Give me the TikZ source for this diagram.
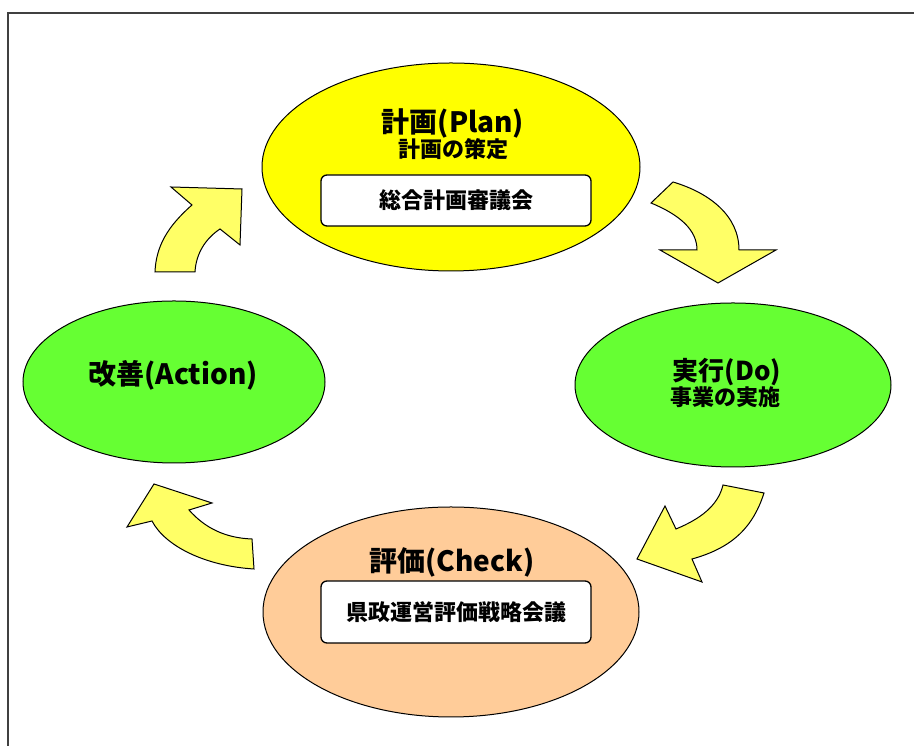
\documentclass[tikz,border=0pt]{standalone}
\usepackage{fontspec}
\setmainfont{Noto Sans CJK JP}
\usepackage{tikz}
\usetikzlibrary{positioning, calc, shapes.geometric}

\definecolor{planyellow}{HTML}{FFFF00}
\definecolor{dogreen}{HTML}{66FF33}
\definecolor{checkpeach}{HTML}{FFCC99}
\definecolor{arrowyellow}{HTML}{FFFF66}
\definecolor{framegray}{HTML}{404040}

\tikzset{
  phase/.style={ellipse, draw=black, line width=1pt, inner sep=0pt},
  meeting/.style={draw=black, fill=white, rounded corners=6pt, line width=1.3pt, inner sep=0pt, minimum width=270pt},
  cyclearrow/.style={fill=arrowyellow, draw=black, line width=1pt, line join=miter},
  headtext/.style={font=\bfseries\fontsize{28}{30}\selectfont, inner sep=0pt},
  subtext/.style={font=\bfseries\fontsize{22}{24}\selectfont, inner sep=0pt}
}

\begin{document}
\begin{tikzpicture}[x=1pt, y=1pt]
        \useasboundingbox (0,0) rectangle (914,746);
        \draw[framegray, line width=1.6pt] (8,-5) -- (8,733) -- (920,733);   %frame

        % the four phases
        \node[phase, fill=planyellow, minimum width=378pt, minimum height=208pt] (plan) at (451,579) {};
        \node[phase, fill=dogreen, minimum width=316pt, minimum height=164pt] (do) at (733,361) {};
        \node[phase, fill=checkpeach, minimum width=376pt, minimum height=210pt] (check) at (451,134) {};
        \node[phase, fill=dogreen, minimum width=302pt, minimum height=162pt] (act) at (174,364) {};

        \node[headtext] (plantitle) at ($ (plan) + (2,44) $) {計画(Plan)};
        \node[subtext] (plansub) at ($ (plan) + (2,18) $) {計画の策定};
        \node[meeting, minimum height=51pt] (planbox) at ($ (plan) + (5,-33.5) $) {};
        \node[subtext] (planmeet) at (planbox) {総合計画審議会};

        \node[headtext, font=\bfseries\fontsize{26}{28}\selectfont] (dotitle) at ($ (do) + (-6,13) $) {実行(Do)};
        \node[subtext] (dosub) at ($ (do) + (-8,-12) $) {事業の実施};

        \node[headtext] (checktitle) at ($ (check) + (1,50) $) {評価(Check)};
        \node[meeting, minimum height=62pt] (checkbox) at ($ (check) + (5,0) $) {};
        \node[subtext] (checkmeet) at (checkbox) {県政運営評価戦略会議};

        \node[headtext] (acttitle) at ($ (act) + (-1,7) $) {改善(Action)};

        % curved arrows between the phases
        \draw[cyclearrow] (673,564) -- (651,543) .. controls (680,531) and (697,516) .. (697,496)
                -- (660,496) -- (718,463) -- (776,496) -- (739,496)
                .. controls (739,530) and (710,553) .. (673,564) -- cycle;   %plan to do
        \draw[cyclearrow] (723,261) -- (764,253) .. controls (752,215) and (728,197) .. (692,187)
                -- (702,164) -- (637,187) -- (665,240) -- (676,217)
                .. controls (700,227) and (718,240) .. (723,261) -- cycle;   %do to check
        \draw[cyclearrow] (252,207) -- (254,177) .. controls (205,180) and (165,200) .. (152,225)
                -- (127,219) -- (154,262) -- (212,243) -- (189,236)
                .. controls (205,218) and (225,208) .. (252,207) -- cycle;   %check to act
        \draw[cyclearrow] (155,474) -- (195,474) .. controls (196,492) and (205,507) .. (220,517)
                -- (240,501) -- (242,557) -- (171,559) -- (192,541)
                .. controls (168,520) and (156,500) .. (155,474) -- cycle;   %act to plan
\end{tikzpicture}
\end{document}
